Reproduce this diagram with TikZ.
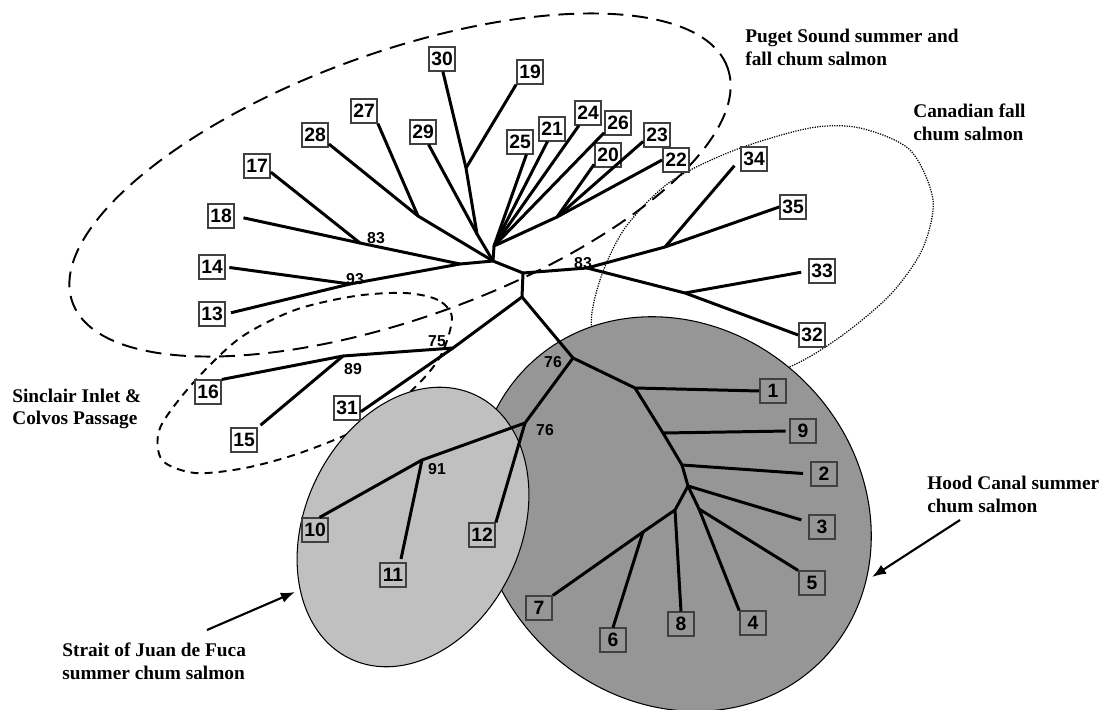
\documentclass[tikz,border=0pt]{standalone}
\usepackage{fontspec}
\setmainfont{Liberation Serif}
\newfontfamily\numfont{Liberation Sans}
\usetikzlibrary{arrows.meta}
\definecolor{hoodgray}{RGB}{150,150,150}
\definecolor{juangray}{RGB}{192,192,192}
\definecolor{boxgray}{RGB}{64,64,64}

\begin{document}
\begin{tikzpicture}[x=0.02cm, y=-0.02cm,
  leaf/.style={draw=boxgray, line width=0.8pt, fill=white, minimum width=15pt, minimum height=13.5pt, inner sep=0.5pt, font=\numfont\bfseries\fontsize{11}{11}\selectfont},
  leafin/.style={leaf, fill=none},
  branch/.style={line width=1.7pt},
  boot/.style={font=\numfont\bfseries\fontsize{9}{9}\selectfont, inner sep=0pt},
  caption/.style={font=\bfseries\fontsize{11}{13}\selectfont, align=left, anchor=west, inner sep=0pt},
  pointer/.style={-{Latex[length=8pt,width=6pt]}, line width=1.2pt}]
\useasboundingbox (0,0) rectangle (1104,709);

% group outlines
\draw[dash pattern=on 9pt off 5pt, line width=1.1pt, rotate around={19.7:(400,185)}] (400,185) ellipse [x radius=6.96cm, y radius=2.66cm];
\draw[dash pattern=on 0.7pt off 0.7pt, line width=0.7pt] plot[smooth cycle] coordinates {(592,330) (600,280) (625,228) (670,182) (735,150) (810,128) (860,128) (910,150) (933,200) (922,250) (890,295) (840,337) (787,368) (700,395) (620,380)};
\draw[dash pattern=on 4.5pt off 3.5pt, line width=1.1pt] plot[smooth cycle] coordinates {(452,318) (438,300) (405,293) (355,296) (295,310) (240,338) (193,383) (160,428) (162,460) (195,473) (245,468) (300,453) (360,428) (410,392) (440,357)};
\draw[fill=hoodgray, line width=0.6pt, rotate around={-45:(674,514)}] (674,514) ellipse [x radius=4.16cm, y radius=3.72cm];
\draw[fill=juangray, line width=0.6pt, rotate around={64.6:(413,527)}] (413,527) ellipse [x radius=2.92cm, y radius=2.16cm];

% captions
\node[caption] (puget) at (745,47) {Puget Sound summer and\\fall chum salmon};
\node[caption] (canada) at (913,122) {Canadian fall\\chum salmon};
\node[caption] (sinclair) at (12,409) {Sinclair Inlet \&\\Colvos Passage};
\node[caption] (juan) at (62,661) {Strait of Juan de Fuca\\summer chum salmon};
\node[caption] (hood) at (927,494) {Hood Canal summer\\chum salmon};

% leaves
\node[leaf] (n30) at (442,59) {30};
\node[leaf] (n19) at (530,72) {19};
\node[leaf] (n27) at (364,111) {27};
\node[leaf] (n28) at (315,135) {28};
\node[leaf] (n29) at (423,132) {29};
\node[leaf] (n17) at (257,166) {17};
\node[leaf] (n18) at (221,216) {18};
\node[leaf] (n14) at (212,267) {14};
\node[leaf] (n13) at (212,314) {13};
\node[leaf] (n25) at (520,142) {25};
\node[leaf] (n21) at (552,129) {21};
\node[leaf] (n24) at (588,113) {24};
\node[leaf] (n26) at (618,123) {26};
\node[leaf] (n20) at (608,155) {20};
\node[leaf] (n23) at (657,135) {23};
\node[leaf] (n22) at (676,160) {22};
\node[leaf] (n34) at (754,159) {34};
\node[leaf] (n35) at (793,207) {35};
\node[leaf] (n33) at (822,271) {33};
\node[leaf] (n32) at (812,335) {32};
\node[leaf] (n16) at (208,392) {16};
\node[leaf] (n15) at (244,440) {15};
\node[leaf] (n31) at (347,408) {31};
\node[leafin] (n10) at (315,530) {10};
\node[leafin] (n11) at (393,575) {11};
\node[leafin] (n12) at (482,535) {12};
\node[leafin] (n1) at (773,391) {1};
\node[leafin] (n9) at (803,431) {9};
\node[leafin] (n2) at (824,474) {2};
\node[leafin] (n3) at (822,527) {3};
\node[leafin] (n5) at (812,583) {5};
\node[leafin] (n4) at (753,623) {4};
\node[leafin] (n8) at (681,624) {8};
\node[leafin] (n6) at (613,640) {6};
\node[leafin] (n7) at (539,608) {7};

% inner nodes
\coordinate (hub) at (493,261);
\coordinate (fan) at (494,246);
\coordinate (jl) at (460,264);
\coordinate (jr) at (523,273);
\coordinate (jd) at (522,297);
\coordinate (b83l) at (360,243);
\coordinate (b93) at (350,284);
\coordinate (j2728) at (418,216);
\coordinate (j2930) at (477,234);
\coordinate (j19) at (466,168);
\coordinate (jfan) at (557,217);
\coordinate (b83r) at (587,268);
\coordinate (j3435) at (665,247);
\coordinate (j3233) at (685,293);
\coordinate (b75) at (453,348);
\coordinate (b89) at (343,356);
\coordinate (b76a) at (573,358);
\coordinate (b76b) at (525,423);
\coordinate (b91) at (422,460);
\coordinate (h1) at (635,388);
\coordinate (h2) at (663,433);
\coordinate (h3) at (682,465);
\coordinate (h4) at (688,486);
\coordinate (h5) at (675,510);
\coordinate (h6) at (699,509);
\coordinate (h7) at (643,532);

% branches
\draw[branch] (jl) -- (hub) -- (jr) -- (jd);
\draw[branch] (hub) -- (fan);
\draw[branch] (hub) -- (j2930) -- (j19) -- (n30.-86);
\draw[branch] (j19) -- (n19.south west);
\draw[branch] (j2930) -- (n29.-66);
\draw[branch] (hub) -- (j2728) -- (n28.-33);
\draw[branch] (j2728) -- (n27.south east);
\draw[branch] (jl) -- (b83l) -- (n17.-24);
\draw[branch, shorten >=5pt] (b83l) -- (n18.east);
\draw[branch, shorten >=2pt] (jl) -- (b93) -- (n14.east);
\draw[branch, shorten >=3pt] (b93) -- (n13.east);
\draw[branch] (fan) -- (n25.-63);
\draw[branch] (fan) -- (n21.-110);
\draw[branch] (fan) -- (n24.-126);
\draw[branch] (fan) -- (n26.-145);
\draw[branch] (fan) -- (jfan) -- (n20.-146);
\draw[branch] (jfan) -- (n23.-155);
\draw[branch] (jfan) -- (n22.west);
\draw[branch] (jr) -- (b83r) -- (j3435);
\draw[branch, shorten >=5pt] (j3435) -- (n34.west);
\draw[branch] (j3435) -- (n35.west);
\draw[branch] (b83r) -- (j3233) -- (n32.west);
\draw[branch, shorten >=4pt] (j3233) -- (n33.west);
\draw[branch] (jd) -- (b75) -- (n31.-15);
\draw[branch] (b75) -- (b89) -- (n16.north east);
\draw[branch, shorten >=2pt] (b89) -- (n15.north east);
\draw[branch] (jd) -- (b76a) -- (h1) -- (n1.west);
\draw[branch, shorten >=2pt] (h1) -- (h2) -- (n9.west);
\draw[branch, shorten >=4pt] (h2) -- (h3) -- (n2.west);
\draw[branch, shorten >=4pt] (h3) -- (h4) -- (n3.160);
\draw[branch] (h4) -- (h5) -- (n8.north);
\draw[branch] (h5) -- (h7) -- (n7.north east);
\draw[branch] (h7) -- (n6.north);
\draw[branch] (h4) -- (h6) -- (n4.north west);
\draw[branch] (h6) -- (n5.north west);
\draw[branch] (b76a) -- (b76b) -- (b91) -- (n10.70);
\draw[branch, shorten >=2pt] (b91) -- (n11.60);
\draw[branch] (b76b) -- (n12.north east);

% bootstrap values
\node[boot] (l83a) at (376,238) {83};
\node[boot] (l93) at (355,279) {93};
\node[boot] (l83b) at (583,263) {83};
\node[boot] (l75) at (437,341) {75};
\node[boot] (l89) at (353,369) {89};
\node[boot] (l76a) at (553,362) {76};
\node[boot] (l76b) at (545,430) {76};
\node[boot] (l91) at (437,469) {91};

% pointers
\coordinate (hoodtail) at (960,520);
\coordinate (hoodtip) at (872,577);
\coordinate (juantail) at (207,630);
\coordinate (juantip) at (295,592);
\draw[pointer] (hoodtail) -- (hoodtip);
\draw[pointer] (juantail) -- (juantip);
\end{tikzpicture}
\end{document}
